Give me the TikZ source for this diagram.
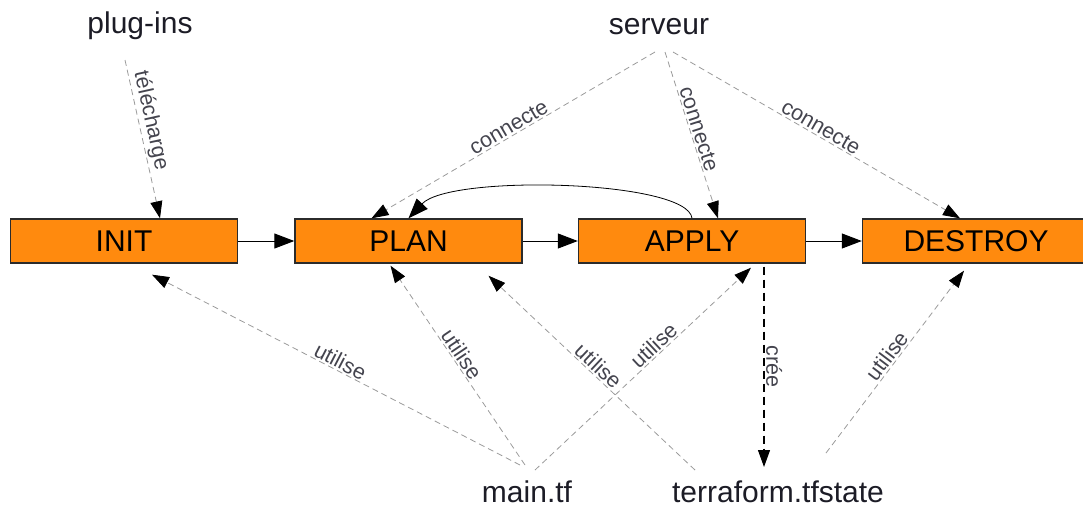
\documentclass[tikz,border=0pt]{standalone}
\usepackage{fontspec}
\setmainfont{Liberation Sans}
\usetikzlibrary{arrows.meta}
\definecolor{ink}     {HTML}{1C1C26}
\definecolor{orng}    {HTML}{FF8A0E}
\definecolor{boxline} {HTML}{2B2B2B}
\definecolor{dashgray}{HTML}{9A9A9A}
\definecolor{labtxt}  {HTML}{44444E}

\begin{document}
\begin{tikzpicture}[
  x=1pt, y=-1pt,
  box/.style={rectangle, draw=boxline, fill=orng, line width=1.4pt, minimum width=227pt,
              minimum height=44pt, inner sep=0pt, font=\fontsize{30}{33}\selectfont, text=black},
  txt/.style={inner sep=0pt, anchor=base, font=\fontsize{30}{33}\selectfont, text=ink},
  lab/.style={font=\fontsize{21.5}{24}\selectfont, text=labtxt, sloped, above, inner sep=1.5pt},
  arr/.style={-{Triangle[length=20pt,width=15pt]}, black, line width=1pt},
  dep/.style={-{Triangle[length=17pt,width=12pt,color=black]}, dashgray, line width=0.8pt,
              dash pattern=on 6pt off 4pt},
  mk/.style={-{Triangle[length=17pt,width=12pt]}, black, line width=1.1pt, dash pattern=on 8pt off 5pt}
]
\useasboundingbox (0,0) rectangle (1083,507);

% the four commands
\node[box] (init) at (124,241) {INIT};
\node[box] (plan) at (408.5,241) {PLAN};
\node[box] (apply) at (692,241) {APPLY};
\node[box] (destroy) at (976,241) {DESTROY};

% what they work with
\node[txt] (plugins) at (140,33) {plug-ins};
\node[txt] (serveur) at (659,34) {serveur};
\node[txt] (maintf) at (527,502) {main.tf};
\node[txt] (tfstate) at (778,502) {terraform.tfstate};

\draw[arr] (init) -- (plan);
\draw[arr] (plan) -- (apply);
\draw[arr] (apply) -- (destroy);
\draw[arr, line width=0.8pt] (apply.north) .. controls (688,180) and (450,174) .. (plan.north);

\draw[dep] ([shift={(-15,27)}]plugins.base) -- node[lab, pos=.4]{télécharge} ([shift={(36,0)}]init.north);
\draw[dep] ([shift={(-4,18)}]serveur.base) -- node[lab]{connecte} ([shift={(-37,0)}]plan.north);
\draw[dep] ([shift={(6,18)}]serveur.base) -- node[lab, pos=.48]{connecte} ([shift={(26,0)}]apply.north);
\draw[dep] ([shift={(14,18)}]serveur.base) -- node[lab]{connecte} ([shift={(-16,0)}]destroy.north);

\draw[dep] ([shift={(-7,-37)}]maintf.base) -- node[lab]{utilise} ([shift={(28,11)}]init.south);
\draw[dep] ([shift={(-2,-37)}]maintf.base) -- node[lab, pos=.53]{utilise} ([shift={(-18,2)}]plan.south);
\draw[dep] ([shift={(8,-32)}]maintf.base) -- node[lab, pos=.58]{utilise} ([shift={(59,4)}]apply.south);

\draw[dep] ([shift={(-83,-32)}]tfstate.base) -- node[lab]{utilise} ([shift={(80,12)}]plan.south);
\draw[mk] ([shift={(72,3)}]apply.south) -- node[lab, allow upside down]{crée} ([shift={(-14,-35)}]tfstate.base);
\draw[dep] ([shift={(48,-49)}]tfstate.base) -- node[lab]{utilise} ([shift={(-12,7)}]destroy.south);
\end{tikzpicture}
\end{document}
